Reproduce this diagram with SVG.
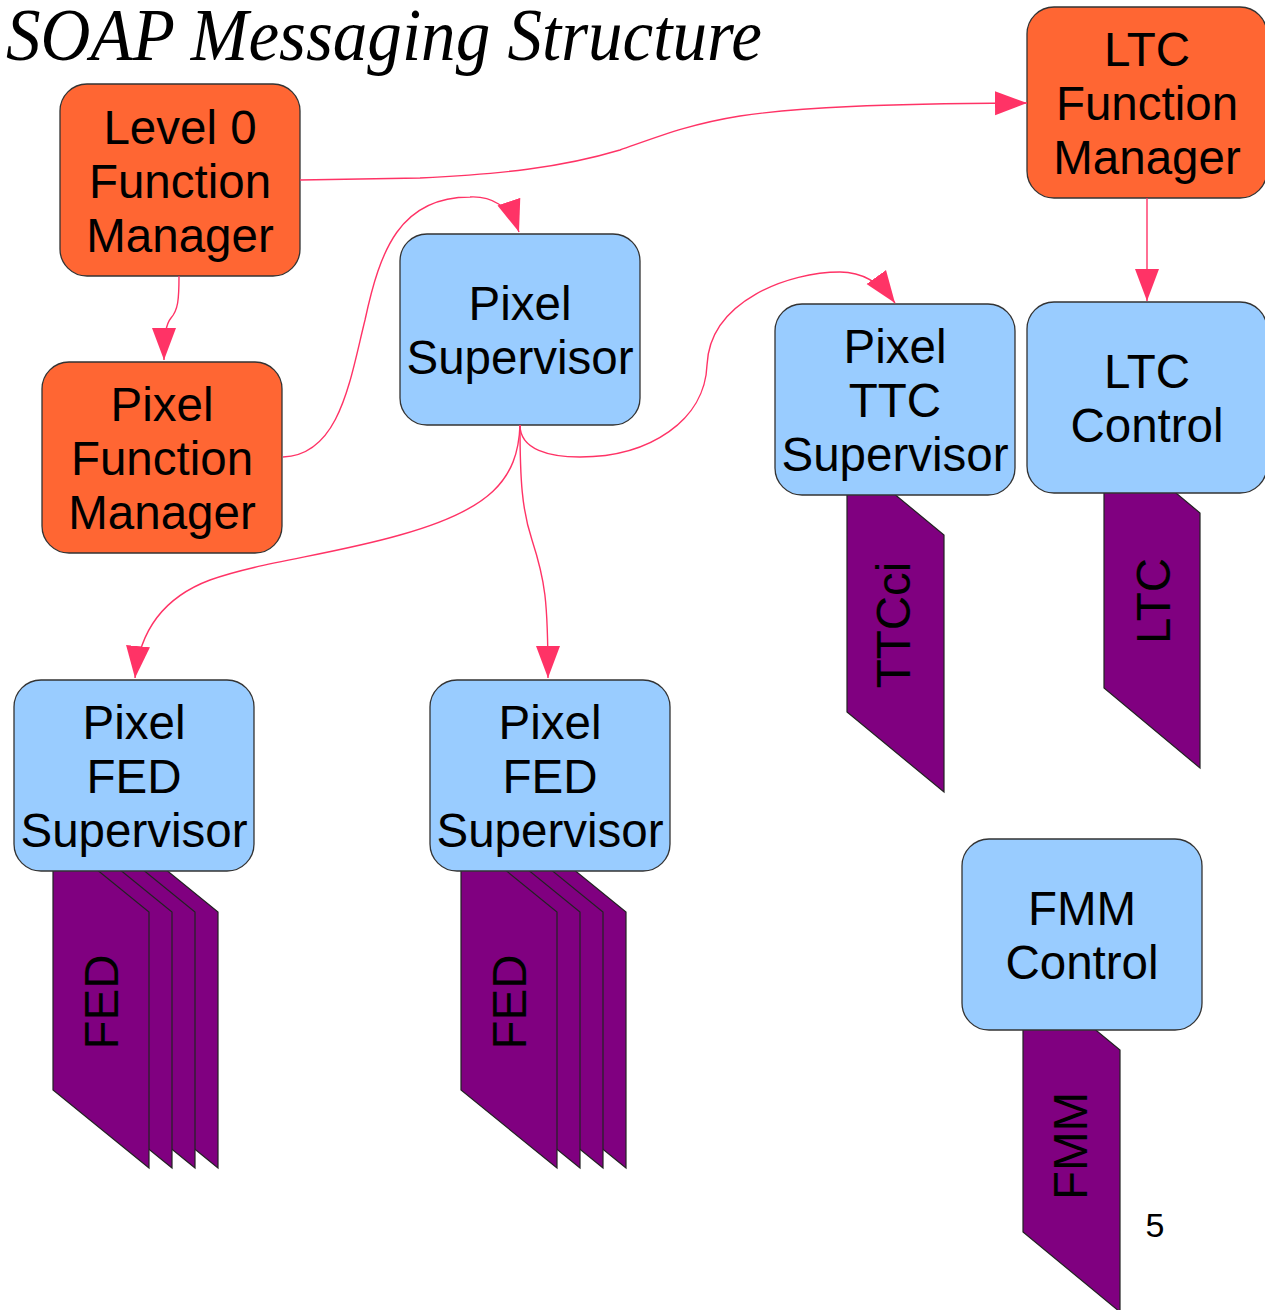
<svg xmlns="http://www.w3.org/2000/svg" width="1265" height="1310" viewBox="0 0 1265 1310">
  <style>
    .fm { fill: #FF6633; stroke: #333333; stroke-width: 1.3; }
    .sv { fill: #99CCFF; stroke: #333333; stroke-width: 1.3; }
    .card { fill: #800080; stroke: #222222; stroke-width: 1.2; }
    .lbl { font-family: "Liberation Sans", Arial, sans-serif; font-size: 47.5px; fill: #000000; text-anchor: middle; }
    .conn { fill: none; stroke: #FF3366; stroke-width: 1.4; marker-end: url(#arrow); }
  </style>
  <defs>
    <marker id="arrow" markerUnits="userSpaceOnUse" markerWidth="34" markerHeight="26" refX="32" refY="12" orient="auto" viewBox="0 0 34 24">
      <path d="M0,0 L32,12 L0,24 Z" fill="#FF3366"/>
    </marker>
    <path id="cardShape" d="M0,0 L97,80 L97,337 L0,257 Z"/>
    <path id="fedShape" d="M0,0 L96,78 L96,334 L0,256 Z"/>
  </defs>

  <rect width="1265" height="1310" fill="#FFFFFF"/>

  <!-- title -->
  <text x="6" y="60" font-family="'Liberation Serif', 'Times New Roman', serif" font-style="italic" font-size="75" textLength="756" lengthAdjust="spacingAndGlyphs">SOAP Messaging Structure</text>

  <!-- hardware cards, drawn under their supervisors -->
  <g id="card-fed-left">
    <use href="#fedShape" x="122" y="834" class="card"/>
    <use href="#fedShape" x="99" y="834" class="card"/>
    <use href="#fedShape" x="76" y="834" class="card"/>
    <use href="#fedShape" x="53" y="834" class="card"/>
    <text class="lbl" transform="translate(118,1002) rotate(-90)">FED</text>
  </g>
  <g id="card-fed-mid">
    <use href="#fedShape" x="530" y="834" class="card"/>
    <use href="#fedShape" x="507" y="834" class="card"/>
    <use href="#fedShape" x="484" y="834" class="card"/>
    <use href="#fedShape" x="461" y="834" class="card"/>
    <text class="lbl" transform="translate(526,1002) rotate(-90)">FED</text>
  </g>
  <g id="card-ttcci">
    <use href="#cardShape" x="847" y="455" class="card"/>
    <text class="lbl" transform="translate(910,625) rotate(-90)">TTCci</text>
  </g>
  <g id="card-ltc">
    <path class="card" d="M1104,433 L1200,513 L1200,768 L1104,688 Z"/>
    <text class="lbl" transform="translate(1170,601) rotate(-90)">LTC</text>
  </g>
  <g id="card-fmm">
    <path class="card" d="M1023,970 L1120,1050 L1120,1312 L1023,1232 Z"/>
    <text class="lbl" transform="translate(1087,1146) rotate(-90)">FMM</text>
  </g>

  <!-- function managers -->
  <g id="level0-fm">
    <rect class="fm" x="60" y="84" width="240" height="192" rx="27"/>
    <text class="lbl" x="180" y="144">Level 0</text>
    <text class="lbl" x="180" y="198">Function</text>
    <text class="lbl" x="180" y="252">Manager</text>
  </g>
  <g id="pixel-fm">
    <rect class="fm" x="42" y="362" width="240" height="191" rx="27"/>
    <text class="lbl" x="162" y="421">Pixel</text>
    <text class="lbl" x="162" y="475">Function</text>
    <text class="lbl" x="162" y="529">Manager</text>
  </g>
  <g id="ltc-fm">
    <rect class="fm" x="1027" y="7" width="240" height="191" rx="27"/>
    <text class="lbl" x="1147" y="66">LTC</text>
    <text class="lbl" x="1147" y="120">Function</text>
    <text class="lbl" x="1147" y="174">Manager</text>
  </g>

  <!-- supervisors and controls -->
  <g id="pixel-supervisor">
    <rect class="sv" x="400" y="234" width="240" height="191" rx="27"/>
    <text class="lbl" x="520" y="320">Pixel</text>
    <text class="lbl" x="520" y="374">Supervisor</text>
  </g>
  <g id="pixel-ttc-supervisor">
    <rect class="sv" x="775" y="304" width="240" height="191" rx="27"/>
    <text class="lbl" x="895" y="363">Pixel</text>
    <text class="lbl" x="895" y="417">TTC</text>
    <text class="lbl" x="895" y="471">Supervisor</text>
  </g>
  <g id="ltc-control">
    <rect class="sv" x="1027" y="302" width="240" height="191" rx="27"/>
    <text class="lbl" x="1147" y="388">LTC</text>
    <text class="lbl" x="1147" y="442">Control</text>
  </g>
  <g id="pixel-fed-supervisor-1">
    <rect class="sv" x="14" y="680" width="240" height="191" rx="27"/>
    <text class="lbl" x="134" y="739">Pixel</text>
    <text class="lbl" x="134" y="793">FED</text>
    <text class="lbl" x="134" y="847">Supervisor</text>
  </g>
  <g id="pixel-fed-supervisor-2">
    <rect class="sv" x="430" y="680" width="240" height="191" rx="27"/>
    <text class="lbl" x="550" y="739">Pixel</text>
    <text class="lbl" x="550" y="793">FED</text>
    <text class="lbl" x="550" y="847">Supervisor</text>
  </g>
  <g id="fmm-control">
    <rect class="sv" x="962" y="839" width="240" height="191" rx="27"/>
    <text class="lbl" x="1082" y="925">FMM</text>
    <text class="lbl" x="1082" y="979">Control</text>
  </g>

  <!-- SOAP message connectors -->
  <g id="connectors">
    <path class="conn" d="M300,180 L420,178 C500,174 560,168 620,150 C660,136 690,124 740,116 C800,107 880,104 1027,103"/>
    <path class="conn" d="M179,276 C179,300 178,310 171,318 C166,324 164,335 164,360"/>
    <path class="conn" d="M283,457 C340,455 350,380 365,320 C380,250 400,197 470,197 C490,196 510,205 519,232"/>
    <path class="conn" d="M520,425 C520,450 550,457 580,457 C650,457 705,420 707,365 C710,300 790,272 840,272 C865,272 882,285 895,303"/>
    <path class="conn" d="M520,425 C518,480 490,510 400,535 C330,555 260,562 210,580 C170,595 140,625 135,678"/>
    <path class="conn" d="M520,425 C520,480 522,510 532,540 C545,580 548,600 548,678"/>
    <path class="conn" d="M1147,198 L1147,301"/>
  </g>

  <!-- slide number -->
  <text x="1155" y="1237" font-family="'Liberation Sans', Arial, sans-serif" font-size="34" text-anchor="middle">5</text>
</svg>
